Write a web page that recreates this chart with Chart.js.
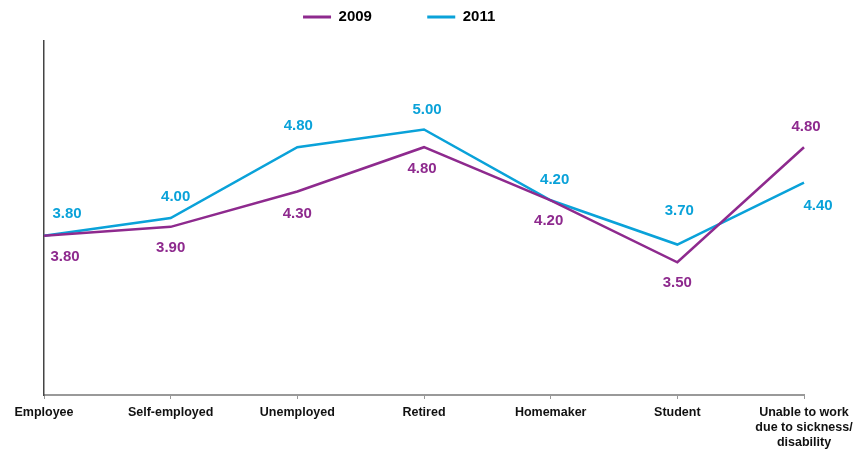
<!DOCTYPE html>
<html lang="en">
<head>
    <meta charset="UTF-8">
    <title>Mean score by employment status</title>
    <style>
        html, body { margin: 0; padding: 0; background: #fff; }
        #wrap { width: 854px; height: 453px; }
    </style>
    <script src="https://cdn.jsdelivr.net/npm/chart.js"></script>
</head>
<body>
    <div id="wrap"><canvas id="chart" width="854" height="453"></canvas></div>

    <script>
        const categories = ['Employee', 'Self-employed', 'Unemployed', 'Retired', 'Homemaker', 'Student',
            ['Unable to work', 'due to sickness/', 'disability']];
        const values2009 = [3.8, 3.9, 4.3, 4.8, 4.2, 3.5, 4.8];
        const values2011 = [3.8, 4.0, 4.8, 5.0, 4.2, 3.7, 4.4];
        const seriesNames = ['2009', '2011'];

        // where each value label sits relative to its point (dx, dy)
        const labelOffsets = [
            [[21, 21], [0, 21], [0, 22], [-2, 22], [-2, 21], [0, 21], [2, -20]],
            [[23, -22], [5, -21], [1, -21], [3, -20], [4, -20], [2, -34], [14, 23]]
        ];

        const purple = '#8e2a8e';
        const blue = '#0aa2d9';
        const font = '"Liberation Sans", Arial, sans-serif';

        const valueLabels = {
            id: 'valueLabels',
            afterDatasetsDraw(chart) {
                const ctx = chart.ctx;
                ctx.save();
                ctx.font = 'bold 15px ' + font;
                ctx.textAlign = 'center';
                ctx.textBaseline = 'middle';
                chart.data.datasets.forEach((ds, i) => {
                    const meta = chart.getDatasetMeta(i);
                    ctx.fillStyle = ds.borderColor;
                    meta.data.forEach((pt, j) => {
                        const off = labelOffsets[i][j];
                        ctx.fillText(ds.data[j].toFixed(2), pt.x + off[0], pt.y + off[1]);
                    });
                });
                ctx.restore();
            }
        };

        new Chart(document.getElementById('chart').getContext('2d'), {
            type: 'line',
            data: {
                labels: categories,
                datasets: [
                    {
                        label: seriesNames[0],
                        data: values2009,
                        borderColor: purple,
                        backgroundColor: purple,
                        borderWidth: 2.5,
                        pointRadius: 0,
                        tension: 0
                    },
                    {
                        label: seriesNames[1],
                        data: values2011,
                        borderColor: blue,
                        backgroundColor: blue,
                        borderWidth: 2.5,
                        pointRadius: 0,
                        tension: 0
                    }
                ]
            },
            options: {
                responsive: false,
                animation: false,
                layout: { padding: { left: 36, right: 50, top: 0, bottom: -3 } },
                plugins: {
                    tooltip: { enabled: false },
                    legend: {
                        position: 'top',
                        labels: {
                            boxWidth: 28,
                            boxHeight: 3,
                            padding: 9.5,
                            color: '#111',
                            font: { family: font, size: 15, weight: 'bold' },
                            generateLabels(chart) {
                                const pad = ['           ', '          '];
                                return chart.data.datasets.map((ds, i) => ({
                                    text: ds.label + pad[i],
                                    fillStyle: ds.borderColor,
                                    strokeStyle: ds.borderColor,
                                    lineWidth: 0,
                                    datasetIndex: i
                                }));
                            }
                        }
                    }
                },
                scales: {
                    x: {
                        offset: false,
                        grid: { drawOnChartArea: false, drawTicks: true, tickLength: 4, color: '#999' },
                        border: { display: true, color: '#999', width: 2 },
                        ticks: {
                            color: '#111',
                            padding: 6,
                            maxRotation: 0,
                            autoSkip: false,
                            font: { family: font, size: 12.5, weight: 'bold', lineHeight: 1.2 }
                        },
                        // let the last label overhang into the right margin
                        afterFit(scale) { scale.paddingRight = 0; }
                    },
                    // empty strip between legend and plot
                    gap: {
                        type: 'category',
                        position: 'top',
                        grid: { display: false },
                        border: { display: false },
                        ticks: { display: false },
                        afterFit(scale) { scale.height = 6.5; }
                    },
                    y: {
                        min: 2,
                        max: 6,
                        grid: { display: false },
                        border: { display: true, color: '#444', width: 1.5 },
                        ticks: { display: false }
                    }
                }
            },
            plugins: [valueLabels]
        });
    </script>
</body>
</html>
